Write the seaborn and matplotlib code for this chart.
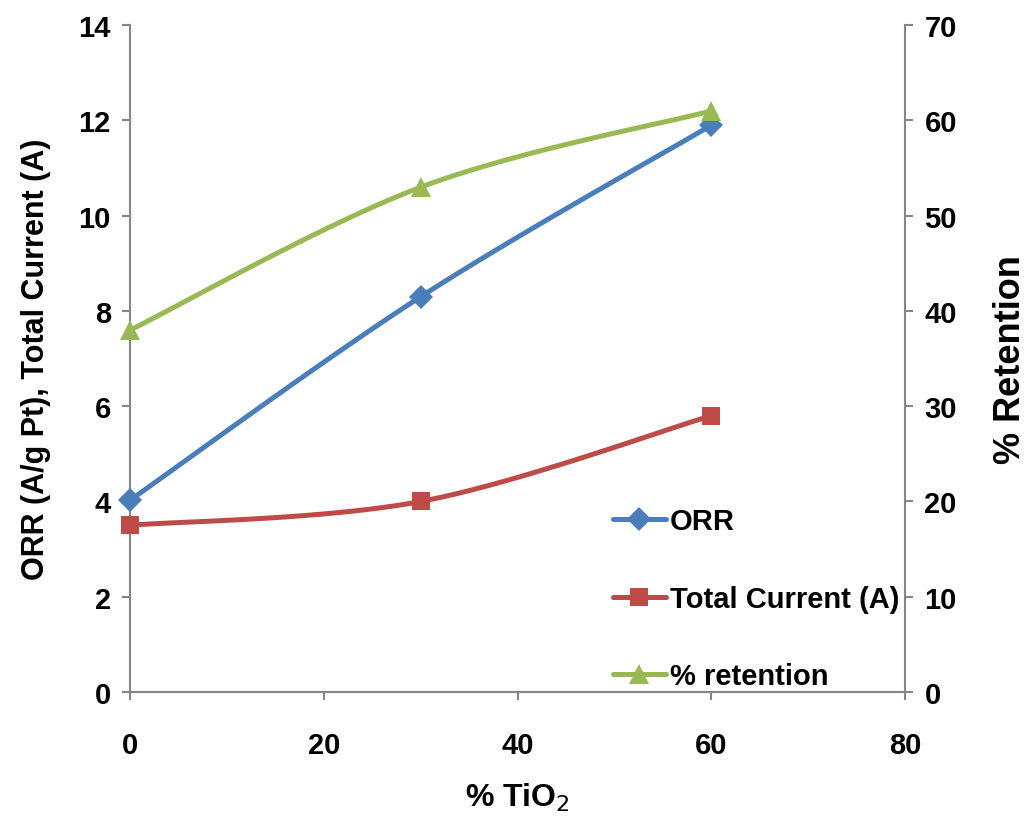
import numpy as np
import pandas as pd
import matplotlib
matplotlib.use("Agg")
import matplotlib.pyplot as plt
import seaborn as sns

# Data
tio2_pct = [0, 30, 60]
orr = [4.03, 8.3, 11.9]
total_current = [3.5, 4.0, 5.8]
retention_pct = [38, 53, 61]

left_ticks = [0, 2, 4, 6, 8, 10, 12, 14]
right_ticks = [0, 10, 20, 30, 40, 50, 60, 70]
x_ticks = [0, 20, 40, 60, 80]

BLUE = "#4A7EBB"
RED = "#BE4B48"
GREEN = "#98B954"
AXIS = "#868686"

sns.set_theme(style="white")
plt.rcParams["font.family"] = ["Liberation Sans", "DejaVu Sans"]
plt.rcParams["text.color"] = "black"
plt.rcParams["axes.labelcolor"] = "black"
plt.rcParams["xtick.color"] = "black"
plt.rcParams["ytick.color"] = "black"


def smooth(x, y, n=60):
    """Catmull-Rom style smoothed path through the points (Excel 'smoothed line')."""
    x = np.asarray(x, float)
    y = np.asarray(y, float)
    px = np.concatenate([[x[0]], x, [x[-1]]])
    py = np.concatenate([[y[0]], y, [y[-1]]])
    xs, ys = [], []
    t = np.linspace(0, 1, n)
    for i in range(1, len(px) - 2):
        p0 = np.array([px[i], py[i]])
        p3 = np.array([px[i + 1], py[i + 1]])
        c1 = p0 + (np.array([px[i + 1], py[i + 1]]) - np.array([px[i - 1], py[i - 1]])) / 6
        c2 = p3 - (np.array([px[i + 2], py[i + 2]]) - np.array([px[i], py[i]])) / 6
        b = ((1 - t)[:, None] ** 3 * p0 + 3 * ((1 - t) ** 2 * t)[:, None] * c1
             + 3 * ((1 - t) * t ** 2)[:, None] * c2 + (t ** 3)[:, None] * p3)
        xs.extend(b[:, 0])
        ys.extend(b[:, 1])
    return pd.DataFrame({"x": xs, "y": ys})


fig = plt.figure(figsize=(10.26, 8.2), dpi=100)
ax = fig.add_axes([0.127, 0.155, 0.755, 0.813])
ax2 = ax.twinx()

lw = 3.6
series = [
    (ax, orr, BLUE, "D", 12, "ORR"),
    (ax, total_current, RED, "s", 13, "Total Current (A)"),
    (ax2, retention_pct, GREEN, "^", 14, "% retention"),
]
handles = []
for axis, vals, col, mk, ms, name in series:
    curve = smooth(tio2_pct, vals)
    sns.lineplot(data=curve, x="x", y="y", ax=axis, color=col, lw=lw,
                 sort=False, estimator=None, legend=False)
    pts = pd.DataFrame({"x": tio2_pct, "y": vals})
    sns.lineplot(data=pts, x="x", y="y", ax=axis, color=col, lw=0,
                 marker=mk, markersize=ms, markeredgewidth=0, legend=False,
                 clip_on=False, zorder=5)
    handles.append(plt.Line2D([], [], color=col, lw=lw, marker=mk,
                              markersize=ms, markeredgewidth=0, label=name))

ax.set_xlim(0, 80)
ax.set_ylim(0, 14)
ax2.set_ylim(0, 70)
ax.set_xticks(x_ticks)
ax.set_yticks(left_ticks)
ax2.set_yticks(right_ticks)

tick_font = dict(family=["Liberation Sans Narrow", "Liberation Sans"], weight="bold",
                 size=21, color="black")
ax.set_xticklabels([str(v) for v in x_ticks], fontdict=tick_font)
ax.set_yticklabels([str(v) for v in left_ticks], fontdict=tick_font)
ax2.set_yticklabels([str(v) for v in right_ticks], fontdict=tick_font)

for a in (ax, ax2):
    a.spines["top"].set_visible(False)
    for s in ("left", "right", "bottom"):
        a.spines[s].set_color(AXIS)
        a.spines[s].set_linewidth(1.5)
    a.tick_params(direction="out", length=6, width=1.5, color=AXIS, pad=8)
    a.set_xlabel("")
    a.set_ylabel("")
ax.tick_params(axis="y", left=True, right=False)
ax.tick_params(axis="x", bottom=True, pad=22)
ax2.tick_params(axis="y", right=True, left=False)
ax2.spines["left"].set_visible(False)
ax.spines["right"].set_visible(False)

ax.set_xlabel("% TiO$_2$", fontsize=23, fontweight="bold", labelpad=16)
ax.set_ylabel("ORR (A/g Pt), Total Current (A)", fontsize=22, fontweight="bold", labelpad=20)
ax2.set_ylabel("% Retention", fontsize=26, fontweight="bold", labelpad=26)

leg = ax.legend(handles=handles, loc="lower right", bbox_to_anchor=(1.027, -0.037),
                frameon=False, prop=dict(weight="bold", size=21),
                handlelength=1.8, handletextpad=0.15, labelspacing=1.7)

fig.savefig("out.png", dpi=100)
